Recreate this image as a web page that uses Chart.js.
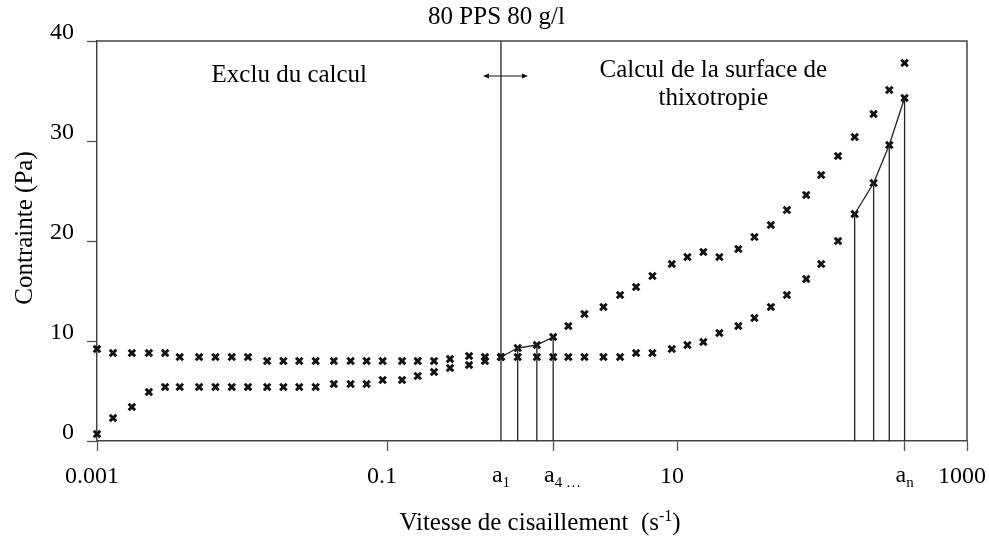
<!DOCTYPE html>
<html lang="fr">
<head>
<meta charset="UTF-8">
<title>80 PPS 80 g/l</title>
<script src="https://cdn.jsdelivr.net/npm/chart.js"></script>
<style>
  body { margin: 0; background: #fff; }
  #wrap { width: 989px; height: 540px; }
</style>
</head>
<body>
<div id="wrap"><canvas id="chart" width="989" height="540"></canvas></div>
<script>
// vitesse de cisaillement (s-1), same steps for both branches
const shearRate = [0.001, 0.00129, 0.00174, 0.00228, 0.00295, 0.00372, 0.00506, 0.00656, 0.0085, 0.011,
                   0.0149, 0.0193, 0.0248, 0.0322, 0.043, 0.0561, 0.0723, 0.0933, 0.127, 0.163,
                   0.211, 0.272, 0.368, 0.474, 0.611, 0.797, 1.08, 1.40, 1.78, 2.30,
                   3.11, 4.05, 5.22, 6.77, 9.21, 11.8, 15.2, 19.6, 26.5, 34.2,
                   44.4, 57.3, 77.8, 98.7, 129, 168, 227, 291, 371];
// contrainte (Pa)
const stressA = [9.2, 8.8, 8.8, 8.8, 8.8, 8.4, 8.4, 8.4, 8.4, 8.4,
                 8.0, 8.0, 8.0, 8.0, 8.0, 8.0, 8.0, 8.0, 8.0, 8.0,
                 8.0, 8.2, 8.5, 8.4, 8.4, 8.4, 8.4, 8.4, 8.4, 8.4,
                 8.4, 8.4, 8.8, 8.8, 9.2, 9.6, 9.9, 10.8, 11.5, 12.3,
                 13.4, 14.6, 16.2, 17.7, 20.0, 22.7, 25.8, 29.6, 34.3];
const stressB = [0.7, 2.3, 3.4, 4.9, 5.4, 5.4, 5.4, 5.4, 5.4, 5.4,
                 5.4, 5.4, 5.4, 5.4, 5.7, 5.7, 5.7, 6.1, 6.1, 6.5,
                 6.9, 7.3, 7.6, 8.0, 8.4, 9.3, 9.6, 10.4, 11.5, 12.7,
                 13.4, 14.6, 15.4, 16.5, 17.7, 18.4, 18.9, 18.4, 19.2, 20.4,
                 21.6, 23.1, 24.6, 26.6, 28.5, 30.4, 32.7, 35.1, 37.8];

const xTickLabels = [0.001, 0.1, 10, 1000];
const yTickLabels = [0, 10, 20, 30, 40];
// trapezes: first and last index of each zone
const zoneLow = [24, 27];   // on stressB (a1 .. a4)
const zoneHigh = [45, 48];  // on stressA (.. an)
const a1 = shearRate[zoneLow[0]];
const a4 = shearRate[zoneLow[1]];
const an = shearRate[zoneHigh[1]];

const serif = '"Liberation Serif", "Times New Roman", serif';

function pts(ys, from, to) {
  const out = [];
  for (let i = from; i <= to; i++) out.push({ x: shearRate[i], y: ys[i] });
  return out;
}

const lineStyle = { showLine: true, pointRadius: 0, borderColor: '#222', borderWidth: 1.3, clip: false };
const datasets = [];

// separation line at a1
datasets.push(Object.assign({ data: [{ x: a1, y: 0 }, { x: a1, y: 40 }] }, lineStyle));
// top of the trapezes
datasets.push(Object.assign({ data: pts(stressB, zoneLow[0], zoneLow[1]) }, lineStyle));
datasets.push(Object.assign({ data: pts(stressA, zoneHigh[0], zoneHigh[1]) }, lineStyle));
// verticals
for (let i = zoneLow[0] + 1; i <= zoneLow[1]; i++) {
  datasets.push(Object.assign({ data: [{ x: shearRate[i], y: 0 }, { x: shearRate[i], y: stressB[i] }] }, lineStyle));
}
for (let i = zoneHigh[0]; i <= zoneHigh[1]; i++) {
  datasets.push(Object.assign({ data: [{ x: shearRate[i], y: 0 }, { x: shearRate[i], y: stressA[i] }] }, lineStyle));
}
// measured points
const markStyle = { showLine: false, pointStyle: 'crossRot', pointRadius: 4.6, borderWidth: 3,
                    borderColor: '#111', backgroundColor: '#111', clip: false };
datasets.push(Object.assign({ data: pts(stressA, 0, shearRate.length - 1) }, markStyle));
datasets.push(Object.assign({ data: pts(stressB, 0, shearRate.length - 1) }, markStyle));

const annotations = {
  id: 'annotations',
  afterDraw(chart) {
    const { ctx, chartArea: a, scales: { x, y } } = chart;
    ctx.save();
    // frame top + right
    ctx.strokeStyle = '#444';
    ctx.lineWidth = 1.5;
    ctx.beginPath();
    ctx.moveTo(a.left, a.top);
    ctx.lineTo(a.right, a.top);
    ctx.lineTo(a.right, a.bottom);
    ctx.stroke();

    // double arrow across the separation
    const xm = x.getPixelForValue(a1);
    const ya = y.getPixelForValue(36.5);
    ctx.strokeStyle = '#111';
    ctx.fillStyle = '#111';
    ctx.lineWidth = 1.2;
    ctx.beginPath();
    ctx.moveTo(xm - 14, ya);
    ctx.lineTo(xm + 22, ya);
    ctx.stroke();
    ctx.beginPath();
    ctx.moveTo(xm - 12, ya - 2.5); ctx.lineTo(xm - 18, ya); ctx.lineTo(xm - 12, ya + 2.5); ctx.closePath();
    ctx.moveTo(xm + 21, ya - 2.5); ctx.lineTo(xm + 27, ya); ctx.lineTo(xm + 21, ya + 2.5); ctx.closePath();
    ctx.fill();

    // texts
    ctx.fillStyle = '#000';
    ctx.textBaseline = 'alphabetic';
    ctx.textAlign = 'center';
    ctx.font = '25px ' + serif;
    ctx.fillText('80 PPS 80 g/l', chart.width / 2 + 2, 24);
    ctx.fillText('Exclu du calcul', x.getPixelForValue(0.0212), y.getPixelForValue(35.9));
    ctx.fillText('Calcul de la surface de', x.getPixelForValue(17.8), y.getPixelForValue(36.4));
    ctx.fillText('thixotropie', x.getPixelForValue(17.8), y.getPixelForValue(33.6));

    // y title
    ctx.save();
    ctx.translate(25, 228);
    ctx.rotate(-Math.PI / 2);
    ctx.textBaseline = 'middle';
    ctx.fillText('Contrainte (Pa)', 0, 0);
    ctx.restore();

    // x title with exponent
    const main = 'Vitesse de cisaillement  (s', sup = '-1', end = ')';
    ctx.font = '25px ' + serif;
    const w1 = ctx.measureText(main).width, w3 = ctx.measureText(end).width;
    ctx.font = '16px ' + serif;
    const w2 = ctx.measureText(sup).width;
    let tx = 540 - (w1 + w2 + w3) / 2;
    const ty = 530;
    ctx.textAlign = 'left';
    ctx.font = '25px ' + serif;
    ctx.fillText(main, tx, ty);
    ctx.font = '16px ' + serif;
    ctx.fillText(sup, tx + w1, ty - 9);
    ctx.font = '25px ' + serif;
    ctx.fillText(end, tx + w1 + w2, ty);

    // a1, a4 ..., an under the axis
    const base = 482;
    function subLabel(val, sub, tail) {
      ctx.font = '24px ' + serif;
      const wa = ctx.measureText('a').width;
      ctx.font = '15px ' + serif;
      const ws = ctx.measureText(sub).width;
      const px = x.getPixelForValue(val) - (wa + ws) / 2;
      ctx.font = '24px ' + serif;
      ctx.fillText('a', px, base);
      ctx.font = '15px ' + serif;
      ctx.fillText(sub, px + wa, base + 5);
      if (tail) ctx.fillText(tail, px + wa + ws, base + 5);
    }
    subLabel(a1, '1', '');
    subLabel(a4, '4', ' \u2026');
    subLabel(an, 'n', '');
    ctx.restore();
  }
};

new Chart(document.getElementById('chart'), {
  type: 'scatter',
  data: { datasets: datasets },
  options: {
    responsive: false,
    animation: false,
    layout: { padding: { top: 41, right: 22, left: 0, bottom: 0 } },
    plugins: { legend: { display: false }, tooltip: { enabled: false } },
    scales: {
      x: {
        type: 'logarithmic',
        min: 0.001,
        max: 1000,
        afterBuildTicks: s => { s.ticks = xTickLabels.concat([a4, an]).map(v => ({ value: v })); },
        afterFit: s => { s.height = 99; s.paddingLeft = 0; s.paddingRight = 0; },
        ticks: {
          autoSkip: false, maxRotation: 0, padding: 11, labelOffset: -5, color: '#000',
          font: { family: serif, size: 24 },
          callback: v => xTickLabels.includes(v) ? String(v) : ''
        },
        grid: { drawOnChartArea: false, tickLength: 10, tickColor: '#555', tickWidth: 1.3 },
        border: { color: '#444', width: 1.5 }
      },
      y: {
        min: 0,
        max: 40,
        afterBuildTicks: s => { s.ticks = yTickLabels.map(v => ({ value: v })); },
        afterFit: s => { s.width = 97; },
        ticks: { padding: 13, labelOffset: -8, color: '#000', font: { family: serif, size: 24 } },
        grid: { drawOnChartArea: false, tickLength: 10, tickColor: '#555', tickWidth: 1.3 },
        border: { color: '#444', width: 1.5 }
      }
    }
  },
  plugins: [annotations]
});
</script>
</body>
</html>
